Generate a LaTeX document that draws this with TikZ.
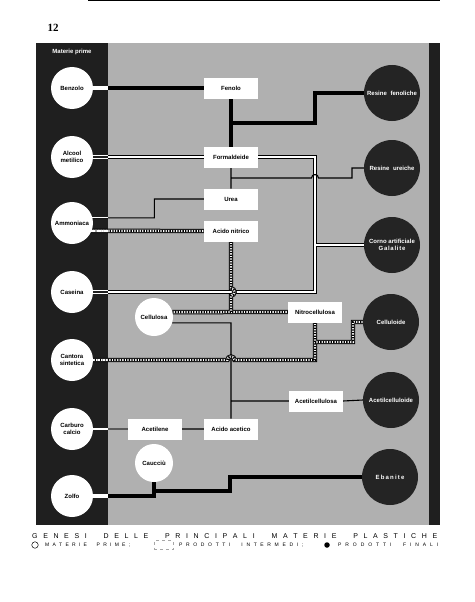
\documentclass[tikz,border=0pt]{standalone}
\usepackage{fontspec}
\setmainfont{Liberation Sans}
\newfontfamily\numfont{Liberation Serif}
\usepackage{xcolor}
\usepackage{tikz}
\usetikzlibrary{positioning,calc}
\definecolor{panelgray}{gray}{0.69}
\definecolor{stripgray}{gray}{0.12}
\definecolor{finalgray}{gray}{0.14}
\newcommand{\labfont}{\fontsize{6}{7.5}\selectfont\bfseries}
\newcommand{\legbig}{\fontsize{7}{7}\selectfont}
\newcommand{\legsmall}{\fontsize{5}{5}\selectfont}
\newcommand{\lgap}{\hskip 0pt plus 1fil\relax}
\newcommand{\wgap}{\hskip 0pt plus 3fil\relax}
\pgfdeclarelayer{panel}
\pgfdeclarelayer{wires}
\pgfsetlayers{panel,wires,main}

\begin{document}
\begin{tikzpicture}[
    x=1pt, y=-1pt,
    raw/.style={circle, fill=white, minimum size=42pt, inner sep=0pt, outer sep=0pt, align=center, font=\labfont},
    rawsmall/.style={raw, minimum size=38pt},
    mid/.style={rectangle, fill=white, minimum width=54pt, minimum height=21pt, inner sep=0pt, outer sep=0pt, font=\labfont},
    final/.style={circle, fill=finalgray, text=white, minimum size=56pt, inner sep=0pt, outer sep=0pt, align=center, font=\labfont},
    thickwire/.style={draw=black, line width=3.5pt},
    thinwire/.style={draw=black, line width=1.1pt},
    carbwire/.style={draw=black!65, line width=1.6pt},
    dblwire/.style={draw=black, double=white, line width=1.3pt, double distance=2pt},
    hatchwire/.style={draw=black, line width=4.4pt, postaction={draw=white, line width=2.4pt}, postaction={draw=black, line width=2.4pt, dash pattern=on 1.3pt off 1.3pt}},
    stubthick/.style={draw=white, line width=3.5pt},
    stubthin/.style={draw=white, line width=1.1pt},
    stubcarb/.style={draw=white, line width=1.8pt},
    stubdbl/.style={draw=white, double=stripgray, line width=1.3pt, double distance=2pt},
    stubhatch/.style={draw=white, line width=2.4pt, dash pattern=on 1.3pt off 1.3pt},
]
    \useasboundingbox (0,0) rectangle (474,602);

    % Panel and dark strips
    \begin{pgfonlayer}{panel}
        \fill[black] (88,0) rectangle (440,1.5);
        \fill[panelgray] (108,43) rectangle (429,525);
        \node[fill=stripgray, inner sep=0pt, outer sep=0pt, minimum width=72pt, minimum height=482pt, anchor=north west] (strip) at (36,43) {};
        \fill[stripgray] (429,43) rectangle (440,525);
    \end{pgfonlayer}

    % Page number
    \node[font=\numfont\bfseries\fontsize{11}{11}\selectfont] (pagenum) at (53,28) {12};
    \node[font=\labfont, text=white] (rawtitle) at (72,52) {Materie prime};

    % Raw materials (left)
    \node[raw] (benzolo) at (72,88) {Benzolo};
    \node[raw] (alcool) at (72,157) {Alcool\\metilico};
    \node[raw] (ammoniaca) at (72,223) {Ammoniaca};
    \node[raw] (caseina) at (72,292) {Caseina};
    \node[raw] (cantora) at (72,360) {Cantora\\sintetica};
    \node[raw] (carburo) at (72,429) {Carburo\\calcio};
    \node[raw] (zolfo) at (72,496) {Zolfo};

    % Intermediate products
    \node[mid] (fenolo) at (231,88) {Fenolo};
    \node[mid] (formaldeide) at (231,157) {Formaldeide};
    \node[mid] (urea) at (231,199) {Urea};
    \node[mid] (nitrico) at (231,231) {Acido nitrico};
    \node[rawsmall] (cellulosa) at (154,317) {Cellulosa};
    \node[mid] (nitrocell) at (315,312) {Nitrocellulosa};
    \node[mid] (acetilcell) at (316,401) {Acetilcellulosa};
    \node[mid] (acetilene) at (155,429) {Acetilene};
    \node[mid] (acetico) at (231,429) {Acido acetico};
    \node[rawsmall] (caucciu) at (154,463) {Caucciù};

    % Final products (right)
    \node[final] (fenoliche) at (392,93) {Resine\hspace{2pt} fenoliche};
    \node[final] (ureiche) at (392,168) {Resine\hspace{2pt} ureiche};
    \node[final] (galalite) at (392,245) {Corno artificiale\\{\addfontfeature{LetterSpace=12}Galalite}};
    \node[final] (celluloide) at (391,322) {Celluloide};
    \node[final] (acetilcelluloide) at (391,400) {Acetilcelluloide};
    \node[final] (ebanite) at (390,477) {\addfontfeature{LetterSpace=20}Ebanite};

    % Junctions
    \coordinate (jfen) at (231,123);
    \coordinate (jure) at (231,178);
    \coordinate (jgal) at (315,245);
    \coordinate (jcas) at (315,292);
    \coordinate (jcel) at (315,342);
    \coordinate (jebo) at (154,491);

    \begin{pgfonlayer}{wires}
        % double lines
        \draw[dblwire] (alcool.east) -- (formaldeide.west)
            (formaldeide.east) -| (jcas) -- (caseina.east)
            (jgal) -- (galalite.west);
        % thin lines
        \draw[thinwire] (ammoniaca.14) -- ++(62,0) |- (urea.west)
            (formaldeide.south) -- (urea.north)
            (jure) -- ++(80.5,0) arc[start angle=180, end angle=360, radius=3.5] -- ++(33.5,0) |- (ureiche.west)
            (cellulosa.-18) -| (acetico.north)
            (acetilcell.west -| acetico.north) -- (acetilcell.west)
            (acetilcell.east) -- (acetilcelluloide.west)
            (acetilene.east) -- (acetico.west);
        % hatched lines
        \draw[hatchwire] (ammoniaca.-22) -- (nitrico.west)
            (nitrico.south) -- ++(0,47) arc[start angle=-90, end angle=90, radius=3.5] -- (nitrico.south |- nitrocell.west)
            (cellulosa.15) -- (nitrocell.west)
            (nitrocell.south) -- (nitrocell.south |- cantora.east) -- ++(-80.5,0) arc[start angle=0, end angle=-180, radius=3.5] -- (cantora.east)
            (jcel) -- ++(38,0) |- (celluloide.west);
        % thick lines
        \draw[thickwire] (benzolo.east) -- (fenolo.west)
            (fenolo.south) -- (formaldeide.north)
            (jfen) -- ++(84,0) |- (fenoliche.west)
            (zolfo.east) -| (caucciu.south)
            (jebo) -- ++(76,0) |- (ebanite.west);
        \draw[carbwire] (carburo.east) -- (acetilene.west);

        % stubs across the dark strip
        \draw[stubthick] (benzolo.east) -- (benzolo.east -| strip.east);
        \draw[stubdbl] (alcool.east) -- (alcool.east -| strip.east);
        \draw[stubthin] (ammoniaca.14) -- (ammoniaca.14 -| strip.east);
        \draw[stubhatch] (ammoniaca.-22) -- (ammoniaca.-22 -| strip.east);
        \draw[stubdbl] (caseina.east) -- (caseina.east -| strip.east);
        \draw[stubhatch] (cantora.east) -- (cantora.east -| strip.east);
        \draw[stubcarb] (carburo.east) -- (carburo.east -| strip.east);
        \draw[stubthick] (zolfo.east) -- (zolfo.east -| strip.east);
    \end{pgfonlayer}

    % Legend
    \node[anchor=west, inner sep=0pt, font=\legbig] (legtitle) at (32,536) {\makebox[405pt][s]{G\lgap E\lgap N\lgap E\lgap S\lgap I\wgap D\lgap E\lgap L\lgap L\lgap E\wgap P\lgap R\lgap I\lgap N\lgap C\lgap I\lgap P\lgap A\lgap L\lgap I\wgap M\lgap A\lgap T\lgap E\lgap R\lgap I\lgap E\wgap P\lgap L\lgap A\lgap S\lgap T\lgap I\lgap C\lgap H\lgap E}};
    \node[circle, draw, line width=0.5pt, minimum size=6.5pt, inner sep=0pt] (legraw) at (35,545) {};
    \node[anchor=west, inner sep=0pt, font=\legsmall] (legrawtext) at (45,545) {\makebox[85pt][s]{M\lgap A\lgap T\lgap E\lgap R\lgap I\lgap E\wgap P\lgap R\lgap I\lgap M\lgap E\lgap ;}};
    \node[draw=black!35, dashed, line width=0.4pt, minimum width=19pt, minimum height=9pt, inner sep=0pt] (legmid) at (163.5,545) {};
    \node[anchor=west, inner sep=0pt, font=\legsmall] (legmidtext) at (179,545) {\makebox[124pt][s]{P\lgap R\lgap O\lgap D\lgap O\lgap T\lgap T\lgap I\wgap I\lgap N\lgap T\lgap E\lgap R\lgap M\lgap E\lgap D\lgap I\lgap ;}};
    \node[circle, fill=black, minimum size=5.5pt, inner sep=0pt] (legfinal) at (327,545) {};
    \node[anchor=west, inner sep=0pt, font=\legsmall] (legfinaltext) at (338,545) {\makebox[100pt][s]{P\lgap R\lgap O\lgap D\lgap O\lgap T\lgap T\lgap I\wgap F\lgap I\lgap N\lgap A\lgap L\lgap I}};
\end{tikzpicture}
\end{document}
